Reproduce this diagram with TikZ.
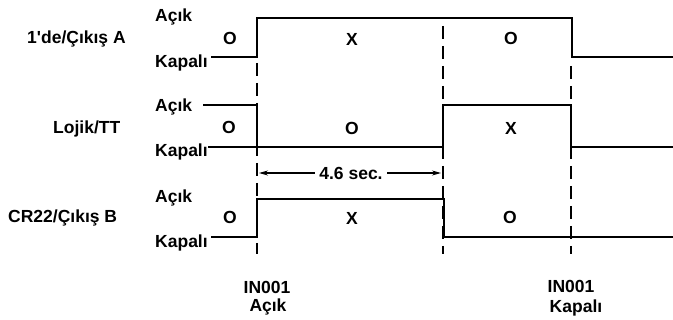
\documentclass[tikz,border=0pt]{standalone}
\usepackage{fontspec}
\setmainfont{Liberation Sans}[Ligatures=TeXOff]
\usetikzlibrary{arrows.meta}
\begin{document}
\begin{tikzpicture}[x=1pt,y=-1pt,
  txt/.style={font=\fontsize{17.5}{20}\selectfont\bfseries,inner sep=0pt},
  sig/.style={line width=1.4pt,line cap=rect,line join=miter},
  guide/.style={line width=1.3pt,dash pattern=on 13pt off 7pt},
  dim/.style={line width=1.1pt,{Stealth[length=9pt,width=5pt]}-{Stealth[length=9pt,width=5pt]}}]
\useasboundingbox (0,0) rectangle (673,320);
% row labels
\node[txt,anchor=west] (la) at (27,39) {1'de/Çıkış A};
\node[txt,anchor=west] (lb) at (53,129) {Lojik/TT};
\node[txt,anchor=west] (lc) at (8,218) {CR22/Çıkış B};
% level labels
\node[txt,anchor=west] (a1) at (155,17) {Açık};
\node[txt,anchor=west] (k1) at (155,63) {Kapalı};
\node[txt,anchor=west] (a2) at (155,107) {Açık};
\node[txt,anchor=west] (k2) at (155,152) {Kapalı};
\node[txt,anchor=west] (a3) at (155,198) {Açık};
\node[txt,anchor=west] (k3) at (155,243) {Kapalı};
% states
\node[txt] (s11) at (230,38) {O};
\node[txt] (s12) at (352,39) {X};
\node[txt] (s13) at (511,38) {O};
\node[txt] (s21) at (229,127) {O};
\node[txt] (s22) at (352,128) {O};
\node[txt] (s23) at (511,128) {X};
\node[txt] (s31) at (230,217) {O};
\node[txt] (s32) at (352,218) {X};
\node[txt] (s33) at (510,217) {O};
% waveforms
\draw[sig] (212,57) -- (257,57) -- (257,18) -- (572,18) -- (572,57) -- (673,57);
\draw[sig] (204,105) -- (257,105) -- (257,147);
\draw[sig] (209,147) -- (443,147) -- (443,105) -- (571,105) -- (571,147) -- (673,147);
\draw[sig] (212,237) -- (257,237) -- (257,199) -- (444,199) -- (444,237) -- (673,237);
% guide lines
\coordinate (g1t) at (257,63); \coordinate (g1b) at (257,254);
\coordinate (g2t) at (443,26); \coordinate (g2b) at (443,254);
\coordinate (g3t) at (571,66); \coordinate (g3b) at (571,254);
\draw[guide] (g1t) -- (g1b);
\draw[guide] (g2t) -- (g2b);
\draw[guide] (g3t) -- (g3b);
% duration
\coordinate (d1) at (259,173); \coordinate (d2) at (441,173);
\draw[dim] (d1) -- (d2);
\node[txt,fill=white,inner xsep=4pt,inner ysep=2pt] (dl) at (351,173) {4.6 sec.};
% bottom labels
\node[txt] (in1) at (267,287) {IN001};
\node[txt] (in1s) at (268,307) {Açık};
\node[txt] (in2) at (571,286) {IN001};
\node[txt] (in2s) at (576,308) {Kapalı};
\end{tikzpicture}
\end{document}
